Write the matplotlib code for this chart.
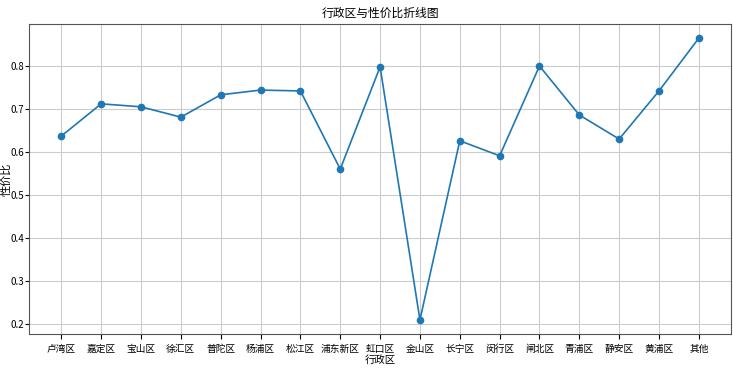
import matplotlib
matplotlib.use("Agg")
import matplotlib.pyplot as plt

plt.rcParams['font.family'] = ['Noto Sans CJK SC', 'DejaVu Sans']
plt.rcParams['axes.unicode_minus'] = False

districts = ["卢湾区", "嘉定区", "宝山区", "徐汇区", "普陀区", "杨浦区", "松江区", "浦东新区", "虹口区",
             "金山区", "长宁区", "闵行区", "闸北区", "青浦区", "静安区", "黄浦区", "其他"]
ratio = [0.637, 0.712, 0.705, 0.681, 0.733, 0.744, 0.742, 0.560, 0.798,
         0.209, 0.626, 0.591, 0.800, 0.686, 0.630, 0.742, 0.865]

fig, ax = plt.subplots(figsize=(7.33, 3.75), dpi=100)
ax.plot(districts, ratio, marker='o', markersize=4.5, color='#1f77b4', linewidth=1.2)
ax.set_title("行政区与性价比折线图", fontsize=8.5, pad=5)
ax.set_xlabel("行政区", fontsize=7.5, labelpad=1)
ax.set_ylabel("性价比", fontsize=8)
# the tick numbers leave little room at the left
ax.yaxis.set_label_coords(-0.0262, 0.5)
ax.tick_params(axis='x', labelsize=7)
ax.tick_params(axis='y', labelsize=7, pad=1, length=3)
ax.grid(True, color='#cccccc')
for s in ax.spines.values():
    s.set_color('#555555')
fig.subplots_adjust(left=0.0402, right=0.9969, top=0.936, bottom=0.1093)
fig.savefig("out.png")
